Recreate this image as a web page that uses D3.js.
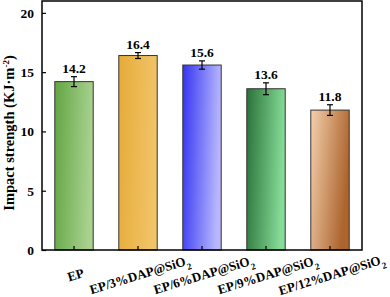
<!DOCTYPE html>
<html>
<head>
<meta charset="utf-8">
<script src="https://cdn.jsdelivr.net/npm/d3@7"></script>
<style>
  body { margin: 0; background: #fff; }
  svg { display: block; }
  text { font-family: "Liberation Serif", "Times New Roman", serif; font-weight: bold; fill: #000; }
</style>
</head>
<body>
<div id="chart"></div>
<script>
const categories = ["EP", "EP/3%DAP@SiO", "EP/6%DAP@SiO", "EP/9%DAP@SiO", "EP/12%DAP@SiO"];
const values = [14.2, 16.4, 15.6, 13.6, 11.8];
const errors = [0.42, 0.25, 0.35, 0.5, 0.45];
const yTicks = [0, 5, 10, 15, 20];
const gradients = [
  ["#62a543", "#a9d28f"],
  ["#e6ab38", "#f1c468"],
  ["#3434f2", "#b8b8ff"],
  ["#2a7238", "#86dc98"],
  ["#f4d0ae", "#ad652e"]
];

const W = 390, H = 297;
const margin = { top: 1, right: 28, bottom: 47, left: 42 };
const width = W - margin.left - margin.right,
      height = H - margin.top - margin.bottom;

const svg = d3.select("#chart").append("svg")
  .attr("width", W).attr("height", H);

const defs = svg.append("defs");
gradients.forEach((g, i) => {
  const lg = defs.append("linearGradient")
    .attr("id", "grad" + i)
    .attr("x1", 0).attr("y1", 0)
    .attr("x2", 1).attr("y2", i === 4 ? 0.35 : 0.15);
  lg.append("stop").attr("offset", 0).attr("stop-color", g[0]);
  lg.append("stop").attr("offset", 1).attr("stop-color", g[1]);
});

const g = svg.append("g").attr("transform", `translate(${margin.left},${margin.top})`);

const x = d3.scaleBand()
  .domain(categories)
  .range([0, width])
  .paddingInner(0.4)
  .paddingOuter(0.2);

const y = d3.scaleLinear()
  .domain([0, 21])
  .range([height, 0]);

// bars
g.selectAll(".bar")
  .data(categories)
  .enter()
  .append("rect")
  .attr("x", d => x(d))
  .attr("y", (d, i) => y(values[i]))
  .attr("width", x.bandwidth())
  .attr("height", (d, i) => height - y(values[i]))
  .attr("fill", (d, i) => `url(#grad${i})`)
  .attr("stroke", "#333")
  .attr("stroke-width", 1);

// error bars
const eb = g.selectAll(".err")
  .data(categories)
  .enter()
  .append("g")
  .attr("stroke", "#000")
  .attr("stroke-width", 1.2);
eb.append("line")
  .attr("x1", d => x(d) + x.bandwidth() / 2)
  .attr("x2", d => x(d) + x.bandwidth() / 2)
  .attr("y1", (d, i) => y(values[i] - errors[i]))
  .attr("y2", (d, i) => y(values[i] + errors[i]));
[-1, 1].forEach(s => {
  eb.append("line")
    .attr("x1", d => x(d) + x.bandwidth() / 2 - 3)
    .attr("x2", d => x(d) + x.bandwidth() / 2 + 3)
    .attr("y1", (d, i) => y(values[i] + s * errors[i]))
    .attr("y2", (d, i) => y(values[i] + s * errors[i]));
});

// value labels
g.selectAll(".val")
  .data(categories)
  .enter()
  .append("text")
  .attr("x", d => x(d) + x.bandwidth() / 2)
  .attr("y", (d, i) => y(values[i] + errors[i]) - 4)
  .attr("text-anchor", "middle")
  .style("font-size", "13.5px")
  .text((d, i) => values[i].toFixed(1));

// axes (ticks inside)
const yAxis = g.append("g")
  .call(d3.axisLeft(y).tickValues(yTicks).tickSize(-4).tickPadding(8));
yAxis.selectAll("text").style("font-size", "13.5px").attr("font-family", null);

const xAxis = g.append("g")
  .attr("transform", `translate(0,${height})`)
  .call(d3.axisBottom(x).tickSize(-4).tickFormat(""));

[yAxis, xAxis].forEach(a => {
  a.attr("font-family", null);
  a.select(".domain").remove();
  a.selectAll("line").attr("stroke", "#000").attr("stroke-width", 1.2);
});

// frame
g.append("rect")
  .attr("width", width).attr("height", height)
  .attr("fill", "none")
  .attr("stroke", "#000")
  .attr("stroke-width", 1.5);

// x labels, rotated
const xl = g.selectAll(".xl")
  .data(categories)
  .enter()
  .append("text")
  .attr("text-anchor", "middle")
  .attr("transform", d => `translate(${x(d) + x.bandwidth() / 2 + 3},${height + 29}) rotate(-17)`)
  .style("font-size", "13px");
xl.append("tspan").text(d => d);
xl.filter(d => d !== "EP").append("tspan")
  .attr("baseline-shift", "sub")
  .style("font-size", "9px")
  .text("2");

// y title
const yt = svg.append("text")
  .attr("text-anchor", "middle")
  .attr("transform", `translate(14,${margin.top + 132}) rotate(-90)`)
  .style("font-size", "14.5px");
yt.append("tspan").text("Impact strength (KJ·m");
yt.append("tspan").attr("baseline-shift", "super").style("font-size", "9px").text("-2");
yt.append("tspan").text(")");
</script>
</body>
</html>
